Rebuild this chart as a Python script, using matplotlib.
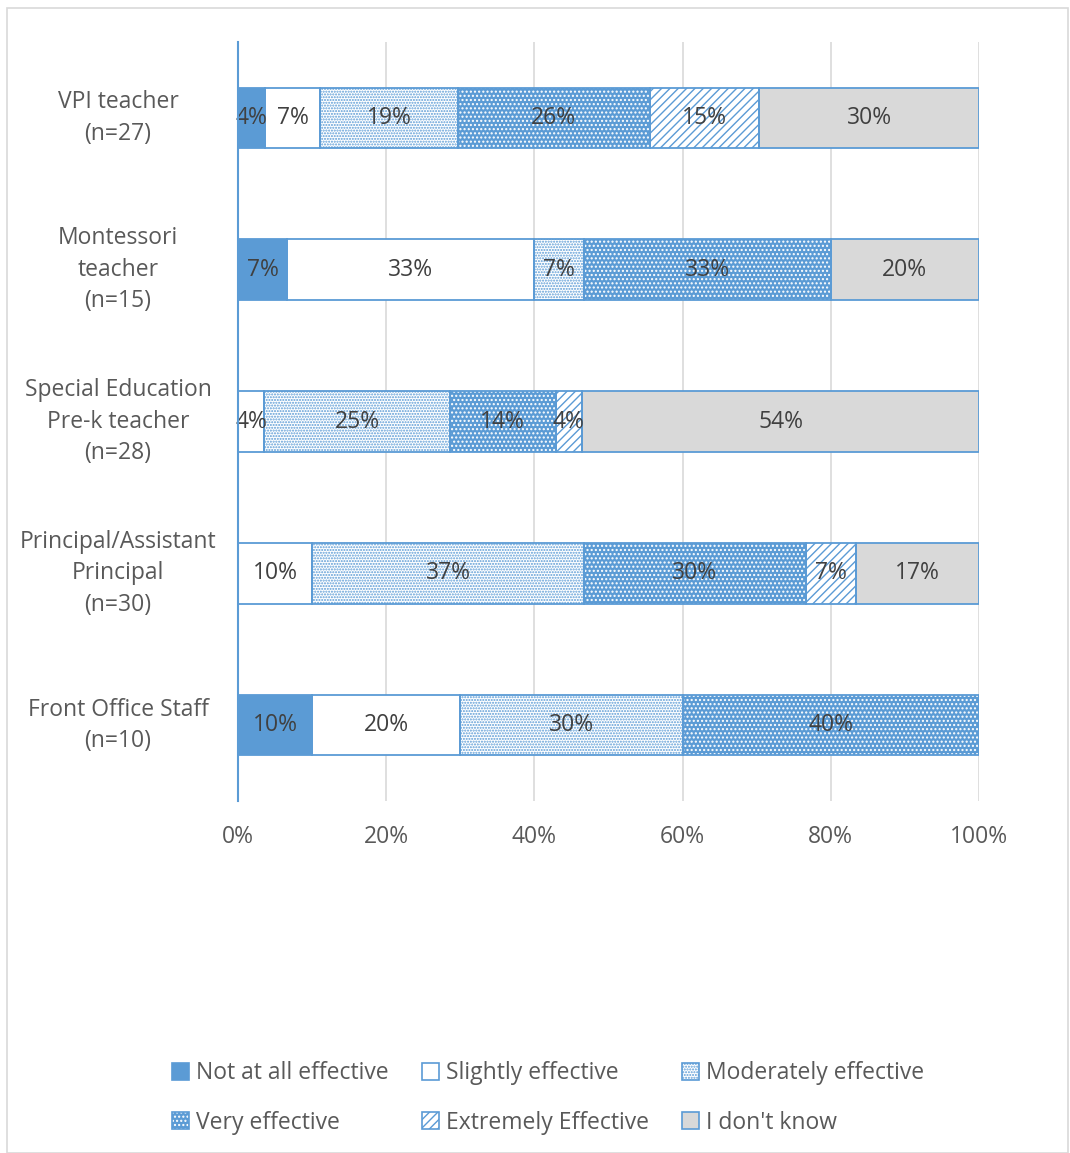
import matplotlib
matplotlib.use("Agg")
import matplotlib.pyplot as plt
from matplotlib.patches import Patch, Rectangle
from matplotlib.legend_handler import HandlerTuple
import matplotlib.transforms as mtransforms
import numpy as np

plt.rcParams['font.family'] = ['Open Sans', 'DejaVu Sans']
plt.rcParams['hatch.linewidth'] = 1.0

categories = ["VPI teacher\n(n=27)", "Montessori\nteacher\n(n=15)",
              "Special Education\nPre-k teacher\n(n=28)",
              "Principal/Assistant\nPrincipal\n(n=30)",
              "Front Office Staff\n(n=10)"]
series_names = ["Not at all effective", "Slightly effective", "Moderately effective",
                "Very effective", "Extremely Effective", "I don't know"]
not_at_all = [3.70, 6.67, 0.0, 0.0, 10.0]
slightly = [7.41, 33.33, 3.57, 10.0, 20.0]
moderately = [18.52, 6.67, 25.0, 36.67, 30.0]
very = [25.93, 33.33, 14.29, 30.0, 40.0]
extremely = [14.81, 0.0, 3.57, 6.67, 0.0]
dont_know = [29.63, 20.0, 53.57, 16.67, 0.0]
xticks = [0, 20, 40, 60, 80, 100]
xticklabels = ["0%", "20%", "40%", "60%", "80%", "100%"]

BLUE = "#5B9BD5"
GRAY = "#D9D9D9"
# (face, hatch, hatchcolor)
styles = [
    (BLUE, None, BLUE),
    ("white", None, BLUE),
    ("white", "......", BLUE),
    (BLUE, "....", "white"),
    ("white", "////", BLUE),
    (GRAY, None, GRAY),
]

series = [not_at_all, slightly, moderately, very, extremely, dont_know]

W, H = 1070, 1153
FS = 16.5
fig = plt.figure(figsize=(W / 100, H / 100), dpi=100)
fig.patch.set_facecolor("white")
fig.add_artist(Rectangle((7 / W, 0), (W - 9) / W, (H - 8) / H, transform=fig.transFigure,
                         fill=False, edgecolor="#D9D9D9", linewidth=1.2))

ax = fig.add_axes([238 / W, (H - 801) / H, (979 - 238) / W, (801 - 42) / H])
y = np.arange(len(categories))
left = np.zeros(len(categories))
bar_h = 0.4
for vals, (face, hatch, hcol) in zip(series, styles):
    vals = np.array(vals)
    ax.barh(y, vals, left=left, height=bar_h, color=face, edgecolor=hcol,
            hatch=hatch, linewidth=0, zorder=2)
    ax.barh(y, vals, left=left, height=bar_h, fill=False, edgecolor=BLUE,
            linewidth=1.3, zorder=3)
    for yi, v, l in zip(y, vals, left):
        if v > 0:
            ax.text(l + v / 2, yi, f"{round(v):.0f}%", ha="center", va="center",
                    fontsize=FS, color="#404040", zorder=4)
    left = left + vals

ax.set_xlim(0, 100)
ax.set_ylim(len(categories) - 0.5, -0.5)
ax.set_xticks(xticks)
ax.set_xticklabels(xticklabels, fontsize=FS, color="#595959")
ax.set_yticks(y)
ax.set_yticklabels([])
ax.tick_params(axis="both", length=0)
ax.tick_params(axis="x", pad=17)
trans = mtransforms.blended_transform_factory(ax.transAxes, ax.transData)
for yi, lab in zip(y, categories):
    ax.text(-0.162, yi, lab, transform=trans, ha="center", va="center",
            multialignment="center", fontsize=FS, color="#595959", linespacing=1.4)
for s in ["top", "right", "bottom"]:
    ax.spines[s].set_visible(False)
ax.spines["left"].set_color(BLUE)
ax.spines["left"].set_linewidth(1.5)
ax.spines["left"].set_zorder(5)
ax.grid(axis="x", color="#D9D9D9", linewidth=1.2, zorder=0)
ax.set_axisbelow(True)

# legend
handles = []
for name, (face, hatch, hcol) in zip(series_names, styles):
    p1 = Patch(facecolor=face, edgecolor=hcol, hatch=hatch, linewidth=0)
    p2 = Patch(fill=False, edgecolor=BLUE, linewidth=1.2)
    handles.append((p1, p2))
order = [0, 3, 1, 4, 2, 5]
leg = fig.legend([handles[i] for i in order], [series_names[i] for i in order],
                 ncol=3, loc="center", bbox_to_anchor=(548 / W, 1 - 1098 / H),
                 frameon=False, fontsize=FS, handlelength=0.75, handleheight=0.75,
                 handletextpad=0.3, columnspacing=1.45, labelspacing=1.1,
                 labelcolor="#595959",
                 handler_map={tuple: HandlerTuple(ndivide=1)})

fig.savefig("out.png", dpi=100, facecolor="white")
